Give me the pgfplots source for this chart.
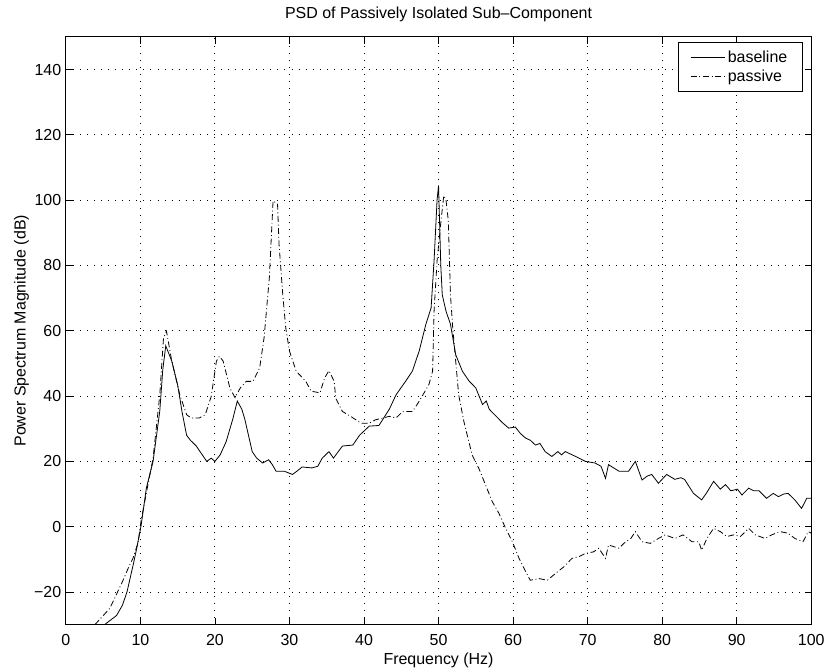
\documentclass[border=0pt]{standalone}
\usepackage{fontspec}
\setmainfont{Liberation Sans}
\usepackage{pgfplots}
\pgfplotsset{compat=1.18}
\begin{document}
\begin{tikzpicture}
\begin{axis}[
  at={(0,0)}, anchor=south west,
  scale only axis, width=560.25pt, height=441.75pt,
  xmin=0, xmax=100, ymin=-30, ymax=150,
  xtick={0,10,...,100}, ytick={-20,0,...,140},
  yticklabels={−20,0,20,40,60,80,100,120,140},
  tick align=inside, major tick length=5pt,
  xtick pos=both, ytick pos=both,
  grid=major,
  major grid style={black, line width=0.7pt, dash pattern=on 0.7pt off 4.6pt},
  axis line style={line width=0.8pt},
  every tick/.style={black, line width=0.6pt},
  tick label style={font=\fontsize{12}{14}\selectfont},
  xticklabel style={yshift=-4pt},
  /pgf/number format/assume math mode=true,
  title={PSD of Passively Isolated Sub–Component},
  title style={font=\fontsize{12}{14}\selectfont, yshift=2pt},
  xlabel={Frequency (Hz)},
  ylabel={Power Spectrum Magnitude (dB)},
  label style={font=\fontsize{12}{14}\selectfont},
  xlabel style={yshift=2pt},
  ylabel style={yshift=-3pt},
  legend style={at={(0.988,0.991)}, anchor=north east, draw=black, line width=0.6pt,
    font=\fontsize{12}{14}\selectfont, inner xsep=9pt, inner ysep=4pt, row sep=0pt, cells={anchor=west}},
  legend cell align=left,
  legend image code/.code={\draw[#1, line width=0.6pt] (0cm,0cm) -- (0.9cm,0cm);},
]
\addplot[black, line width=0.6pt] coordinates {
(5.2,-30) (6.8,-27.2) (7.6,-24) (8.2,-20) (9.0,-12) (9.5,-6.7) (10.1,0.4) (10.8,11.8)
(11.7,20) (12.6,35.4) (13.0,48) (13.4,55.4) (14.2,50.8) (15.0,43.4) (15.6,35) (16.2,28)
(16.7,26.5) (17.5,24.7) (18.0,23) (18.9,20) (19.5,21) (20.0,20) (20.7,22) (21.5,26)
(22.4,33) (23.0,38.5) (23.6,36) (24.0,33) (25.0,23) (25.6,21) (26.4,19.5) (27.2,20.5)
(27.7,19) (28.2,17) (29.3,17) (30.4,16) (31.0,17) (31.7,18.3) (33.0,18) (33.8,18.5)
(34.4,21) (35.3,23) (35.9,21) (37.1,24.7) (38.5,25) (39.4,28) (40.7,30.8) (42.0,31)
(43.4,36) (44.3,40.4) (45.6,44.6) (46.5,47.7) (47.4,53.8) (48.3,62) (49.0,67) (49.4,81.5)
(49.8,100) (50.0,104.5) (50.3,80) (50.5,71) (51.0,66) (51.6,62) (52.3,52.7) (53.2,47.6)
(54.1,44.6) (55.0,42.5) (55.9,37.4) (56.4,38.5) (56.8,36) (57.2,35) (57.7,33.9) (58.5,32)
(59.4,30.2) (60.3,30.5) (61.0,28.5) (61.7,27.1) (62.3,26.5) (63.0,25) (63.6,25.5) (64.3,23)
(65.2,21.5) (66.0,23) (66.5,22) (67.0,23) (68.4,21.5) (69.7,20) (71.0,19.5) (71.8,18.5)
(72.4,14.8) (72.8,19) (73.5,18) (74.2,17) (75.5,17) (76.4,20) (77.3,14.3) (78.0,15.5)
(78.6,16) (79.5,13.3) (80.6,16) (81.7,14.5) (82.5,15) (83.0,14.5) (84.2,10.2) (85.3,8.2)
(86.0,10.5) (86.9,13.9) (87.8,11.5) (88.5,12.9) (89.2,11) (90.1,11.5) (90.7,9.7) (91.6,11.8)
(92.3,11) (93.0,11) (94.0,8.7) (94.9,10.2) (95.6,9.2) (96.3,10) (96.9,10.2) (97.8,8.2)
(98.7,5.6) (99.4,8.7) (100,8.7)
};
\addlegendentry{baseline}
\addplot[black, line width=0.6pt, dash pattern=on 4.5pt off 2pt on 0.7pt off 2pt] coordinates {
(3.9,-30) (5.9,-25) (7.6,-16.8) (8.5,-12) (9.0,-9.7) (9.7,-4.8) (10.1,2) (11.0,12.7)
(11.7,21) (12.6,40.3) (13.1,57.8) (13.5,59.9) (14.2,50.8) (15.3,40.3) (16.2,34.3) (16.8,33.3)
(17.9,33.3) (18.7,34.3) (19.5,39.9) (20.2,50.7) (20.6,52.2) (21.1,50.7) (22.0,42.5) (22.7,39.5)
(23.4,42.5) (24.2,44.5) (25.1,44.5) (26.0,48.6) (26.6,58) (27.3,76.3) (27.8,99.8) (28.4,98.8)
(28.6,86.5) (29.1,71.1) (29.5,60.9) (30.0,53.8) (30.9,47.6) (32.2,44.5) (32.9,41.5) (34.1,41)
(34.7,45.5) (35.3,47.8) (36.0,44.5) (36.2,39.4) (37.1,35.3) (38.2,33.8) (39.6,31.7) (40.7,31.7)
(41.5,32.7) (43.4,33.8) (44.3,33.3) (45.2,35.3) (46.5,35.3) (47.4,38.4) (48.7,43.5) (49.2,47.6)
(49.4,66) (49.8,81.4) (50.3,93) (50.7,101.4) (51.0,100) (51.3,94) (51.4,86.5) (51.6,71)
(51.9,61) (52.3,50.7) (52.7,40.4) (53.4,32.2) (54.5,22) (55.4,17.9) (56.3,12.8) (57.2,7.7)
(58.1,4.1) (59.0,-0.5) (59.9,-4.6) (60.8,-9.7) (61.7,-13.8) (62.3,-16.4) (63.5,-15.9) (64.6,-16.4)
(65.7,-14.3) (66.8,-12.3) (67.9,-9.7) (68.8,-9.2) (69.7,-8.2) (70.8,-7.7) (71.5,-6.6) (72.4,-9.7)
(72.8,-5.6) (74.2,-6.6) (75.1,-4.6) (75.8,-3.6) (76.4,-1.5) (77.3,-4.6) (78.4,-5.1) (79.5,-3.6)
(80.4,-2.5) (81.7,-3.6) (82.8,-2.5) (84.0,-4.6) (84.9,-4.6) (85.3,-7.2) (86.0,-3.6) (86.9,-0.5)
(87.8,-1.5) (88.7,-3) (89.6,-2.5) (90.5,-3) (91.6,-0.5) (92.5,-2.5) (93.8,-3.6) (94.7,-2.5)
(95.8,-1.5) (96.9,-2) (97.8,-3.6) (98.9,-4.6) (99.6,-1.5) (100,-2)
};
\addlegendentry{passive}
\end{axis}
\useasboundingbox (-49.5pt,-35.25pt) rectangle (572.25pt,469.5pt);
\end{tikzpicture}
\end{document}
